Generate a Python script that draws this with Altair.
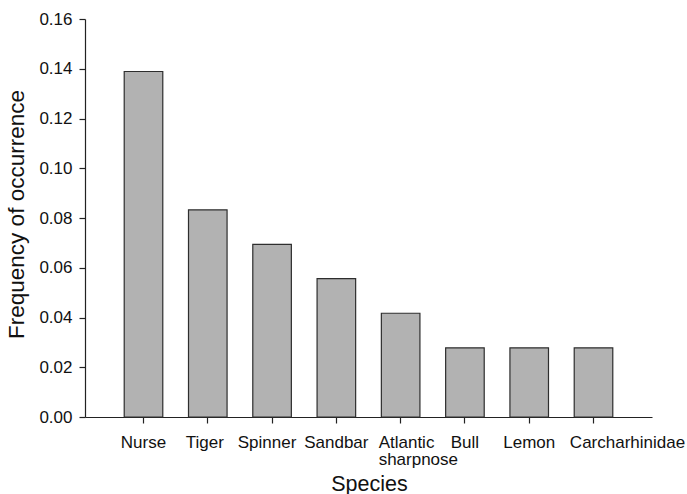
import altair as alt
import pandas as pd

species = ["Nurse", "Tiger", "Spinner", "Sandbar", "Atlantic sharpnose", "Bull", "Lemon", "Carcharhinidae"]
frequency = [0.1389, 0.0833, 0.0694, 0.0556, 0.0417, 0.0278, 0.0278, 0.0278]
y_ticks = [0.00, 0.02, 0.04, 0.06, 0.08, 0.10, 0.12, 0.14, 0.16]

df = pd.DataFrame({"Species": species, "Frequency": frequency})

FONT = "Liberation Sans"

chart = alt.Chart(df).mark_bar(
    fill="#b2b2b2", stroke="#2e2e2e", strokeWidth=1.2
).encode(
    x=alt.X(
        "Species:N",
        sort=species,
        scale=alt.Scale(paddingInner=0.4, paddingOuter=0.61),
        axis=alt.Axis(
            title="Species",
            titleFont=FONT, titleFontSize=21.5, titleFontWeight="normal", titleColor="#111",
            titleX=284, titleY=73, titleAlign="center", titleBaseline="alphabetic",
            labelFont=FONT, labelFontSize=17, labelColor="#111", labelAngle=0,
            labelPadding=11, labelLineHeight=17, labelOverlap=False,
            labelAlign={"condition": {"test": "datum.value == 'Atlantic sharpnose'", "value": "left"}, "value": "center"},
            labelOffset={"condition": [
                {"test": "datum.value == 'Atlantic sharpnose'", "value": -22},
                {"test": "datum.value == 'Carcharhinidae'", "value": 34},
                {"test": "datum.value == 'Spinner'", "value": -5},
                {"test": "datum.value == 'Tiger'", "value": -3},
            ], "value": 0},
            labelExpr="datum.label == 'Atlantic sharpnose' ? ['Atlantic', 'sharpnose'] : datum.label",
            tickSize=6, tickColor="#222", domainColor="#222", domainWidth=1.2, tickWidth=1.2,
        ),
    ),
    y=alt.Y(
        "Frequency:Q",
        scale=alt.Scale(domain=[0, 0.16], nice=False),
        axis=alt.Axis(
            title="Frequency of occurrence",
            values=y_ticks, format=".2f", grid=False,
            titleFont=FONT, titleFontSize=22.5, titleFontWeight="normal", titleColor="#111",
            titleX=-62, titleY=195, titleAngle=-90, titleAlign="center", titleBaseline="alphabetic",
            labelFont=FONT, labelFontSize=17, labelColor="#111", labelPadding=7,
            tickSize=6, tickColor="#222", domainColor="#222", domainWidth=1.2, tickWidth=1.2,
        ),
    ),
).properties(
    width=567,
    height=398,
    autosize=alt.AutoSizeParams(type="none"),
    padding={"left": 85, "top": 19, "right": 35, "bottom": 77},
    background="white",
).configure_view(stroke=None)

chart.save("out.html", embed_options={"renderer": "svg", "actions": False})
